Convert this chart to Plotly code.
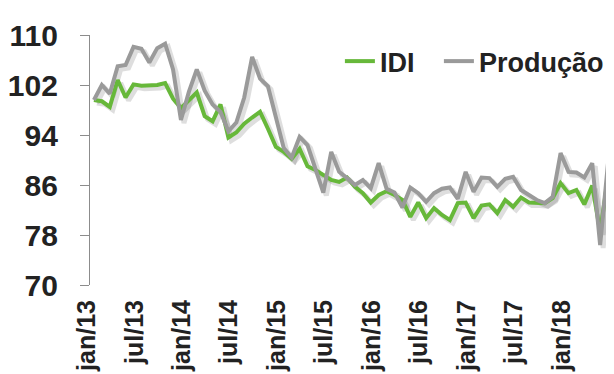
import plotly.graph_objects as go

# ---- data ----
month_abbr = ["jan", "fev", "mar", "abr", "mai", "jun", "jul", "ago", "set", "out", "nov", "dez"]
years = ["13", "14", "15", "16", "17", "18"]
months = [f"{m}/{y}" for y in years for m in month_abbr][:66]  # jan/13 .. jun/18

idi = [99.6, 99.4, 98.5, 102.8, 100.0, 102.1, 101.9, 101.9, 102.0, 102.3,
       99.8, 98.3, 99.6, 100.8, 97.0, 96.2, 98.9, 93.6, 94.4, 95.8,
       96.8, 97.7, 95.0, 92.1, 91.3, 90.2, 91.8, 89.0, 88.4, 87.6,
       86.8, 86.5, 87.2, 85.7, 84.7, 83.2, 84.4, 85.0, 84.4, 83.6,
       80.9, 83.2, 80.7, 82.3, 81.2, 80.4, 83.1, 83.2, 80.7, 82.7,
       82.9, 81.5, 83.6, 82.5, 84.0, 83.2, 83.2, 83.1, 83.9, 86.3,
       84.7, 85.2, 82.9, 85.9, 78.5, 87.3]

producao = [99.6, 102.0, 100.6, 105.0, 105.2, 108.1, 107.8, 105.6, 107.9, 108.6,
            104.5, 96.4, 100.9, 104.5, 101.1, 98.9, 97.7, 94.6, 96.0, 100.0,
            106.5, 103.0, 101.8, 96.7, 91.9, 90.4, 93.7, 92.4, 88.6, 84.8,
            91.3, 88.1, 87.1, 86.0, 86.8, 85.5, 89.5, 85.4, 84.8, 82.4,
            85.6, 84.7, 83.3, 84.7, 85.4, 85.6, 83.8, 88.1, 84.9, 87.2,
            87.1, 85.7, 87.0, 87.3, 85.2, 84.4, 83.6, 83.1, 84.1, 91.1,
            88.1, 88.0, 87.2, 89.5, 76.4, 89.6]

tick_labels = ["jan/13", "jul/13", "jan/14", "jul/14", "jan/15", "jul/15",
               "jan/16", "jul/16", "jan/17", "jul/17", "jan/18"]
y_ticks = [70, 78, 86, 94, 102, 110]

# ---- style ----
GREEN = "#67b83a"
GRAY = "#9a9a9a"
SHADOW = "rgba(0,0,0,0.13)"
AXIS = "#8c8c8c"
TXT = "#222222"
FONT = "Liberation Sans, Arial, sans-serif"

W, H = 614, 374
ML, MR, MT, MB = 82, 7, 27, 94
pw = W - ML - MR
ph = H - MT - MB
sx = 3 / pw
sy = 3 / ph
n = len(months)
boundaries = [i - 0.5 for i in range(0, n + 1, 6)]

fig = go.Figure()

# drop shadows (same data, on axes shifted by a few pixels, drawn first)
for vals in (idi, producao):
    fig.add_trace(go.Scatter(x=months, y=vals, mode="lines", xaxis="x", yaxis="y",
                             line=dict(color=SHADOW, width=5), showlegend=False,
                             hoverinfo="skip"))

fig.add_trace(go.Scatter(x=months, y=idi, name="IDI", mode="lines",
                         xaxis="x2", yaxis="y2", legend="legend",
                         line=dict(color=GREEN, width=4)))
fig.add_trace(go.Scatter(x=months, y=producao, name="Produção", mode="lines",
                         xaxis="x2", yaxis="y2", legend="legend2",
                         line=dict(color=GRAY, width=4)))

leg_font = dict(family=FONT, size=27, color=TXT, weight="bold")
leg_x = 0.476

fig.update_layout(
    width=W, height=H,
    margin=dict(l=ML, r=MR, t=MT, b=MB, autoexpand=False),
    paper_bgcolor="white", plot_bgcolor="rgba(0,0,0,0)",
    font=dict(family=FONT, color=TXT, size=26, weight="bold"),
    # shadow subplot
    xaxis=dict(type="category", domain=[sx, 1], range=[-0.5, n - 0.5], anchor="y",
               visible=False),
    yaxis=dict(domain=[0, 1 - sy], range=[70, 110], anchor="x", visible=False),
    # main subplot
    xaxis2=dict(type="category", domain=[0, 1 - sx], range=[-0.5, n - 0.5], anchor="y2",
                tickvals=tick_labels, ticktext=tick_labels, tickangle=-90,
                ticks="", showline=False, showgrid=False, zeroline=False,
                ticklabelstandoff=9, ticklabelshift=-7, automargin=False,
                tickfont=dict(family=FONT, size=25, color=TXT, weight="bold")),
    xaxis3=dict(type="linear", overlaying="x2", anchor="y2", domain=[0, 1 - sx],
                range=[-0.5, n - 0.5], tickvals=boundaries, showticklabels=False,
                ticks="outside", ticklen=9, tickwidth=1.3, tickcolor=AXIS,
                showline=True, linecolor=AXIS, linewidth=1.3,
                showgrid=False, zeroline=False),
    yaxis2=dict(domain=[sy, 1], range=[70, 110], tickvals=y_ticks, anchor="x2",
                ticks="outside", ticklen=9, tickwidth=1.3, tickcolor=AXIS,
                showline=True, linecolor=AXIS, linewidth=1.3,
                showgrid=False, zeroline=False, ticklabelstandoff=16,
                automargin=False,
                tickfont=dict(family=FONT, size=30, color=TXT, weight="bold")),
    legend=dict(orientation="h", x=leg_x, y=0.895, xanchor="left", yanchor="middle",
                bgcolor="rgba(0,0,0,0)", font=leg_font),
    legend2=dict(orientation="h", x=leg_x + 99 / pw, y=0.895, xanchor="left",
                 yanchor="middle", bgcolor="rgba(0,0,0,0)", font=leg_font),
    showlegend=True,
)

fig.write_html("out.html")
